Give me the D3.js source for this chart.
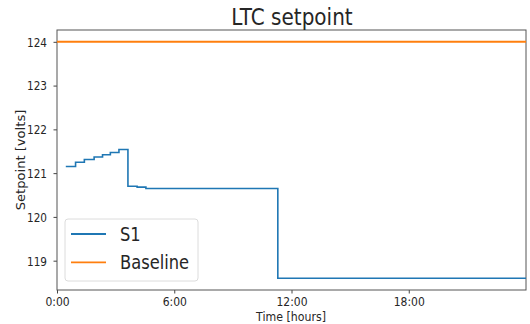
<!DOCTYPE html>
<html>
<head>
<meta charset="utf-8">
<script src="https://cdn.jsdelivr.net/npm/d3@7"></script>
<style>
  html, body { margin: 0; padding: 0; background: #fff; }
  text { font-family: "DejaVu Sans", sans-serif; fill: #262626; }
</style>
</head>
<body>
<div id="graph"></div>
<script>
// S1 setpoint steps (hours -> volts), step-after
const s1Hours = [0.45, 0.95, 1.4, 1.9, 2.33, 2.73, 3.17, 3.63, 4.1, 4.55, 11.3, 24];
const s1Volts = [121.15, 121.25, 121.31, 121.37, 121.42, 121.47, 121.54, 120.70, 120.68, 120.65, 118.6, 118.6];
const baseHours = [0, 24];
const baseVolts = [124, 124];
const xTicks = [0, 6, 12, 18];
const xTickLabels = ['0:00', '6:00', '12:00', '18:00'];
const yTicks = [119, 120, 121, 122, 123, 124];
const seriesNames = ['S1', 'Baseline'];
const seriesColors = ['#1f77b4', '#ff7f0e'];

const width = 530, height = 324;
const margin = { top: 30, right: 4, bottom: 34, left: 57 };
const innerW = width - margin.left - margin.right;
const innerH = height - margin.top - margin.bottom;
const stretch = 1.15; // the reference glyphs are taller than wide

const svg = d3.select('#graph').append('svg')
    .attr('width', width)
    .attr('height', height);

const plot = svg.append('g')
    .attr('transform', 'translate(' + margin.left + ',' + margin.top + ')');

const x = d3.scaleLinear().domain([0, 24]).range([0, innerW]);
const y = d3.scaleLinear().domain([118.33, 124.27]).range([innerH, 0]);

// axes
const xAxis = plot.append('g')
    .attr('transform', 'translate(0,' + innerH + ')')
    .call(d3.axisBottom(x).tickValues(xTicks).tickSize(3.5).tickFormat((d, i) => xTickLabels[i]));
xAxis.selectAll('text')
    .attr('y', 0).attr('dy', 0)
    .attr('font-size', 10.8)
    .attr('transform', 'translate(0,15.8) scale(1,' + stretch + ')');

const yAxis = plot.append('g')
    .call(d3.axisLeft(y).tickValues(yTicks).tickSize(3.5).tickFormat(d3.format('d')));
yAxis.selectAll('text')
    .attr('x', 0).attr('dy', 0)
    .attr('font-size', 10.5)
    .attr('transform', 'translate(-10,4.4) scale(1,' + stretch + ')');

plot.selectAll('.domain').remove();
plot.selectAll('.tick line').attr('stroke', '#444');

// frame
plot.append('rect')
    .attr('width', innerW)
    .attr('height', innerH)
    .attr('fill', 'none')
    .attr('stroke', '#555')
    .attr('stroke-width', 1);

// series
const line = d3.line()
    .x(d => x(d[0]))
    .y(d => y(d[1]))
    .curve(d3.curveStepAfter);

plot.append('path')
    .datum(s1Hours.map((h, i) => [h, s1Volts[i]]))
    .attr('d', line)
    .attr('fill', 'none')
    .attr('stroke', seriesColors[0])
    .attr('stroke-width', 1.6);

plot.append('path')
    .datum(baseHours.map((h, i) => [h, baseVolts[i]]))
    .attr('d', line)
    .attr('fill', 'none')
    .attr('stroke', seriesColors[1])
    .attr('stroke-width', 2);

// title and axis labels
svg.append('text')
    .attr('text-anchor', 'middle')
    .attr('font-size', 20)
    .attr('transform', 'translate(292,25) scale(1,' + stretch + ')')
    .text('LTC setpoint');

svg.append('text')
    .attr('text-anchor', 'middle')
    .attr('font-size', 11)
    .attr('transform', 'translate(291,320.5) scale(1,' + stretch + ')')
    .text('Time [hours]');

svg.append('text')
    .attr('text-anchor', 'middle')
    .attr('font-size', 11.4)
    .attr('transform', 'translate(25,160) rotate(-90) scale(' + stretch + ',1)')
    .text('Setpoint [volts]');

// legend
const legend = svg.append('g').attr('transform', 'translate(65,219)');
legend.append('rect')
    .attr('width', 133)
    .attr('height', 62)
    .attr('rx', 3)
    .attr('fill', 'rgba(255,255,255,0.8)')
    .attr('stroke', '#dcdcdc');

const rows = legend.selectAll('.row')
    .data(seriesNames)
    .enter().append('g')
    .attr('class', 'row')
    .attr('transform', (d, i) => 'translate(0,' + (15 + i * 28.3) + ')');

rows.append('line')
    .attr('x1', 6).attr('x2', 41)
    .attr('stroke', (d, i) => seriesColors[i])
    .attr('stroke-width', 1.8);

rows.append('text')
    .attr('font-size', 16.3)
    .attr('transform', 'translate(55,6.8) scale(1,' + stretch + ')')
    .text(d => d);
</script>
</body>
</html>
